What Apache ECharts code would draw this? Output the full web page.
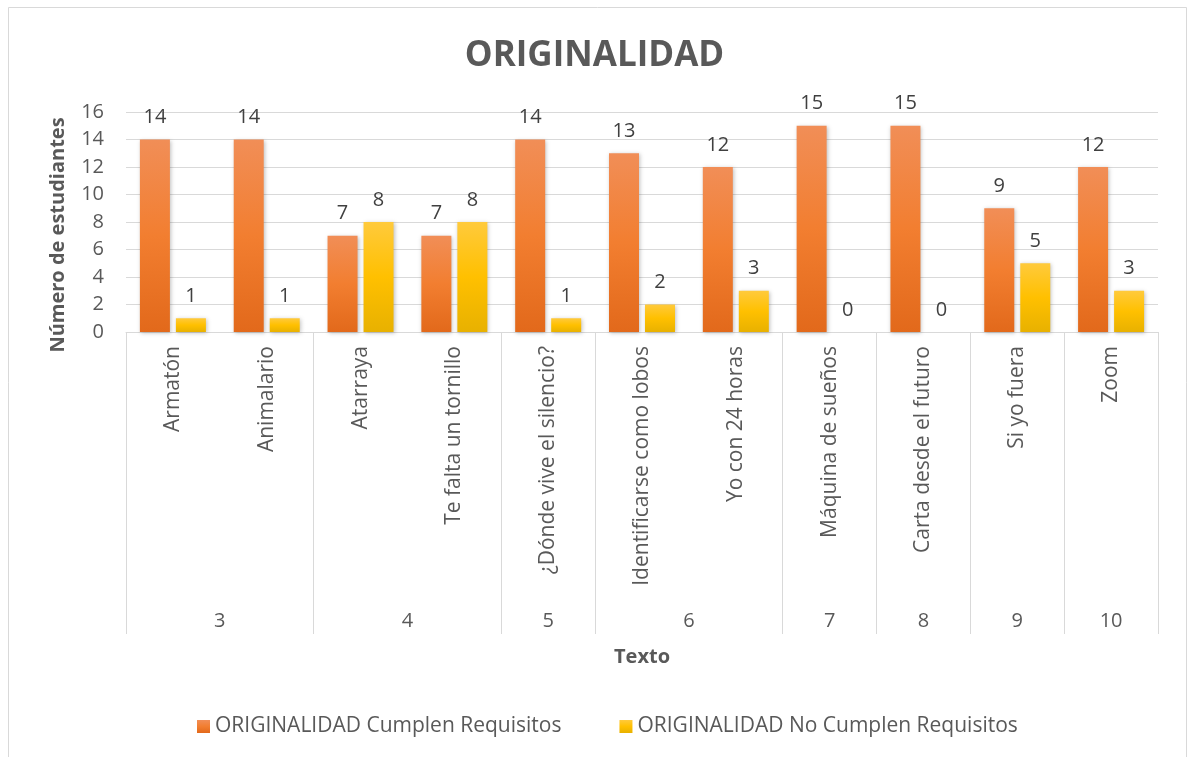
<!DOCTYPE html>
<html>
<head>
<meta charset="utf-8">
<title>ORIGINALIDAD</title>
<script src="https://cdn.jsdelivr.net/npm/echarts@6/dist/echarts.min.js"></script>
<style>
  html, body { margin: 0; padding: 0; background: #ffffff; }
  #chart { width: 1189px; height: 757px; }
</style>
</head>
<body>
<div id="chart"></div>
<script>
// Texts read in each grade, and how many students met the originality criteria
const textos = ['Armatón', 'Animalario', 'Atarraya', 'Te falta un tornillo', '¿Dónde vive el silencio?',
  'Identificarse como lobos', 'Yo con 24 horas', 'Máquina de sueños', 'Carta desde el futuro', 'Si yo fuera', 'Zoom'];
const cumplen = [14, 14, 7, 7, 14, 13, 12, 15, 15, 9, 12];
const noCumplen = [1, 1, 8, 8, 1, 2, 3, 0, 0, 5, 3];
// Grade groups on the outer axis level, with how many texts belong to each
const grados = ['3', '4', '5', '6', '7', '8', '9', '10'];
const textosPorGrado = [2, 2, 1, 2, 1, 1, 1, 1];
const yMax = 16;
const yStep = 2;

// Boundaries and centres of the grade groups, in category units
const limites = [0];
textosPorGrado.forEach(n => limites.push(limites[limites.length - 1] + n));
const centros = grados.map((g, i) => (limites[i] + limites[i + 1]) / 2);
const etiquetaGrado = {};
centros.forEach((c, i) => { etiquetaGrado[c] = grados[i]; });

const FONT = '"Open Sans", sans-serif';
const GRIS = '#595959';
const LINEA = '#d9d9d9';

function degradado(arriba, medio, abajo) {
  return new echarts.graphic.LinearGradient(0, 0, 0, 1, [
    { offset: 0, color: arriba },
    { offset: 0.5, color: medio },
    { offset: 1, color: abajo }
  ]);
}

const sombra = { shadowBlur: 4, shadowColor: 'rgba(0,0,0,0.25)', shadowOffsetX: 1, shadowOffsetY: 1 };
const etiquetaValor = {
  show: true, position: 'top', distance: 12,
  fontFamily: FONT, fontSize: 20, color: '#404040'
};

const chart = echarts.init(document.getElementById('chart'), null, { renderer: 'canvas' });
chart.setOption({
  backgroundColor: '#ffffff',
  animation: false,
  textStyle: { fontFamily: FONT },
  graphic: [{
    type: 'rect', silent: true, z: -1,
    shape: { x: 8.5, y: 7.5, width: 1178, height: 770 },
    style: { fill: 'none', stroke: LINEA, lineWidth: 1 }
  }],
  title: {
    text: 'ORIGINALIDAD', left: 'center', top: 34,
    textStyle: { fontFamily: FONT, fontSize: 35, fontWeight: 'bold', color: GRIS }
  },
  legend: {
    bottom: 15, left: 192, icon: 'rect', itemWidth: 13, itemHeight: 13, itemGap: 58,
    textStyle: { fontFamily: FONT, fontSize: 21, color: GRIS }
  },
  grid: { left: 126, right: 31, top: 112, bottom: 425, containLabel: false },
  xAxis: [{
    type: 'category', data: textos, position: 'bottom',
    name: 'Texto', nameLocation: 'middle', nameGap: 315,
    nameTextStyle: { fontFamily: FONT, fontSize: 20, fontWeight: 'bold', color: GRIS },
    axisLine: { show: true, lineStyle: { color: LINEA, width: 1 } },
    axisTick: { show: false },
    axisLabel: { interval: 0, rotate: 90, margin: 14, fontFamily: FONT, fontSize: 21, color: GRIS }
  }, {
    type: 'value', min: 0, max: limites[limites.length - 1], position: 'bottom',
    axisLine: { show: false },
    splitLine: { show: false },
    axisTick: { show: true, customValues: limites, length: 302, lineStyle: { color: LINEA, width: 1 } },
    axisLabel: {
      customValues: centros, margin: 279, fontFamily: FONT, fontSize: 20, color: GRIS,
      formatter: v => etiquetaGrado[v]
    }
  }],
  yAxis: {
    type: 'value', min: 0, max: yMax, interval: yStep,
    name: 'Número de estudiantes', nameLocation: 'middle', nameGap: 58,
    nameTextStyle: { fontFamily: FONT, fontSize: 20, fontWeight: 'bold', color: GRIS, padding: [0, 26, 0, 0] },
    axisLine: { show: false },
    axisTick: { show: false },
    axisLabel: { margin: 22, fontFamily: FONT, fontSize: 20, color: GRIS },
    splitLine: { lineStyle: { color: LINEA, width: 1 } }
  },
  series: [{
    name: 'ORIGINALIDAD Cumplen Requisitos', type: 'bar', xAxisIndex: 0,
    data: cumplen, barWidth: 30, barGap: '20%',
    itemStyle: Object.assign({ color: degradado('#F18E57', '#F27E30', '#E2691B') }, sombra),
    label: etiquetaValor
  }, {
    name: 'ORIGINALIDAD No Cumplen Requisitos', type: 'bar', xAxisIndex: 0,
    data: noCumplen, barWidth: 30, barGap: '20%',
    itemStyle: Object.assign({ color: degradado('#FFCA3C', '#FFC000', '#E8B100') }, sombra),
    label: etiquetaValor
  }]
});
</script>
</body>
</html>
